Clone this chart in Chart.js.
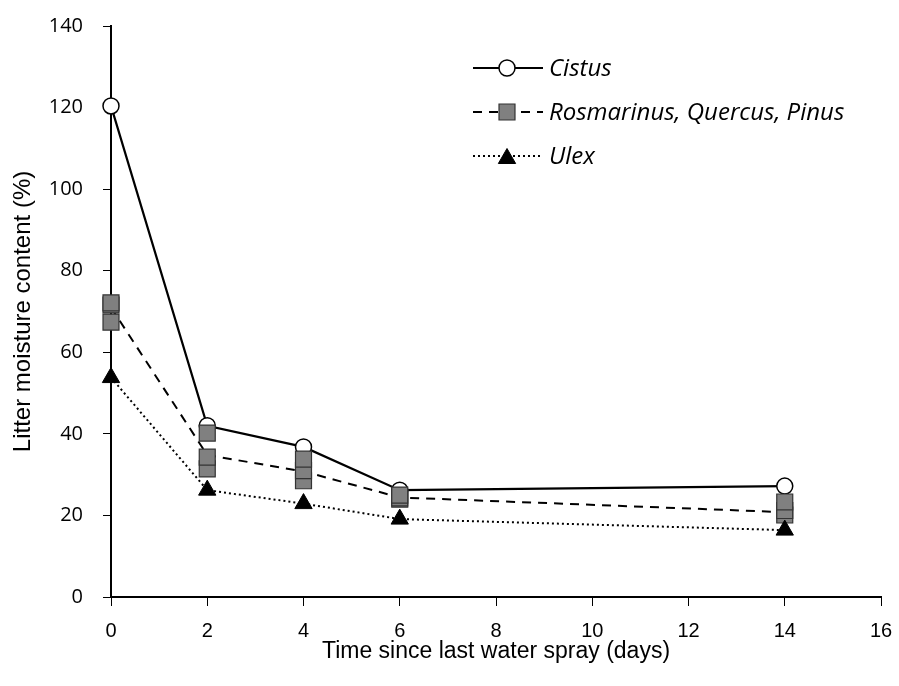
<!DOCTYPE html>
<html>
<head>
<meta charset="utf-8">
<script src="https://cdn.jsdelivr.net/npm/chart.js@4.4.1/dist/chart.umd.min.js"></script>
<style>
  html, body { margin: 0; padding: 0; background: #fff; }
  #wrap { width: 899px; height: 686px; }
</style>
</head>
<body>
<div id="wrap"><canvas id="c" width="899" height="686"></canvas></div>
<script>
// ---- data ----
const days = [0, 2, 4, 6, 14];
const cistus = [120.4, 42.0, 36.8, 26.2, 27.2];
const rqpMean = [71.0, 34.8, 30.8, 24.4, 20.8];
const rosmarinus = [72.1, 40.2, 33.8, 25.0, 23.3];
const quercus = [71.6, 34.3, 31.0, 24.3, 21.2];
const pinus = [67.4, 31.4, 28.5, 24.0, 20.1];
const ulex = [53.8, 26.2, 22.9, 19.1, 16.4];
const legendLabels = ['Cistus', 'Rosmarinus, Quercus, Pinus', 'Ulex'];
const xTitle = 'Time since last water spray (days)';
const yTitle = 'Litter moisture content (%)';
const xTicks = [0, 2, 4, 6, 8, 10, 12, 14, 16];
const yTicks = [0, 20, 40, 60, 80, 100, 120, 140];

const pts = arr => days.map((d, i) => ({ x: d, y: arr[i] }));

const squareStyle = {
  showLine: false, pointStyle: 'rect', pointRadius: 11.3, pointHoverRadius: 11.3,
  pointBackgroundColor: '#808080', pointBorderColor: '#333333', pointBorderWidth: 1.2,
  borderColor: '#333', backgroundColor: '#808080', order: 2, clip: false
};

const datasets = [
  { label: legendLabels[2], data: pts(ulex), showLine: true, clip: false, borderColor: '#000', borderWidth: 2,
    borderDash: [2, 3], pointStyle: 'triangle', pointRadius: 10, pointHoverRadius: 10,
    pointBackgroundColor: '#000', pointBorderColor: '#000', pointBorderWidth: 1, order: 1 },
  Object.assign({ label: 'Rosmarinus', data: pts(rosmarinus) }, squareStyle),
  Object.assign({ label: 'Quercus', data: pts(quercus) }, squareStyle),
  Object.assign({ label: 'Pinus', data: pts(pinus) }, squareStyle),
  { label: legendLabels[1], data: pts(rqpMean), showLine: true, clip: false, borderColor: '#000', borderWidth: 2,
    borderDash: [9, 7], pointRadius: 0, order: 3 },
  { label: legendLabels[0], data: pts(cistus), showLine: true, clip: false, borderColor: '#000', borderWidth: 2.2,
    pointStyle: 'circle', pointRadius: 8, pointHoverRadius: 8,
    pointBackgroundColor: '#fff', pointBorderColor: '#000', pointBorderWidth: 1.5, order: 4 }
];

const legendPlugin = {
  id: 'customLegend',
  afterDraw(chart) {
    const ctx = chart.ctx;
    const x0 = 473, x1 = 543, mx = 507, tx = 549;
    const rows = [
      { y: 68, dash: [], marker: { pointStyle: 'circle', radius: 8, fill: '#fff', stroke: '#000', bw: 1.5 } },
      { y: 112, dash: [9, 7], marker: { pointStyle: 'rect', radius: 11.3, fill: '#808080', stroke: '#333', bw: 1.2 } },
      { y: 156, dash: [2, 3], marker: { pointStyle: 'triangle', radius: 10, fill: '#000', stroke: '#000', bw: 1 } }
    ];
    ctx.save();
    rows.forEach((r, i) => {
      ctx.beginPath();
      ctx.setLineDash(r.dash);
      ctx.strokeStyle = '#000';
      ctx.lineWidth = 2;
      ctx.moveTo(x0, r.y);
      ctx.lineTo(x1, r.y);
      ctx.stroke();
      ctx.setLineDash([]);
      ctx.fillStyle = r.marker.fill;
      ctx.strokeStyle = r.marker.stroke;
      ctx.lineWidth = r.marker.bw;
      Chart.helpers.drawPoint(ctx, { pointStyle: r.marker.pointStyle, radius: r.marker.radius, rotation: 0, borderWidth: r.marker.bw },
        mx, r.y + (r.marker.pointStyle === 'triangle' ? 2.5 : 0));
      ctx.fillStyle = '#000';
      ctx.font = 'italic 24px "Open Sans"';
      ctx.textBaseline = 'middle';
      ctx.textAlign = 'left';
      ctx.fillText(legendLabels[i], tx, r.y + 1);
    });
    ctx.restore();
  }
};

const zeroPad = s => { s.paddingTop = 0; s.paddingBottom = 0; s.paddingLeft = 0; s.paddingRight = 0; };

new Chart(document.getElementById('c'), {
  type: 'scatter',
  data: { datasets },
  plugins: [legendPlugin],
  options: {
    responsive: false,
    animation: false,
    devicePixelRatio: 1,
    layout: { padding: { left: 0, top: 26, right: 18, bottom: 0 } },
    plugins: { legend: { display: false }, tooltip: { enabled: false } },
    elements: { line: { tension: 0 } },
    scales: {
      x: {
        type: 'linear', min: 0, max: 16,
        afterBuildTicks: s => { s.ticks = xTicks.map(v => ({ value: v })); },
        afterFit: s => { s.height = 89; zeroPad(s); },
        grid: { display: true, drawOnChartArea: false, drawTicks: true, tickLength: 9, color: '#000', lineWidth: 1 },
        border: { display: true, color: '#000', width: 2 },
        ticks: { color: '#000', padding: 13, font: { family: 'Liberation Sans', size: 20 }, maxRotation: 0 },
        title: { display: true, text: xTitle, color: '#000', font: { family: 'Liberation Sans', size: 23 }, padding: { top: 21, bottom: 21 } }
      },
      y: {
        type: 'linear', min: 0, max: 140,
        afterBuildTicks: s => { s.ticks = yTicks.map(v => ({ value: v })); },
        afterFit: s => { s.width = 111; zeroPad(s); },
        grid: { display: true, drawOnChartArea: false, drawTicks: true, tickLength: 8, color: '#000', lineWidth: 1 },
        border: { display: true, color: '#000', width: 2 },
        ticks: { color: '#000', padding: 20, font: { family: 'Open Sans', size: 20 } },
        title: { display: true, text: yTitle, color: '#000', font: { family: 'Liberation Sans', size: 24 }, padding: { top: 9, bottom: 9 } }
      }
    }
  }
});
</script>
</body>
</html>
